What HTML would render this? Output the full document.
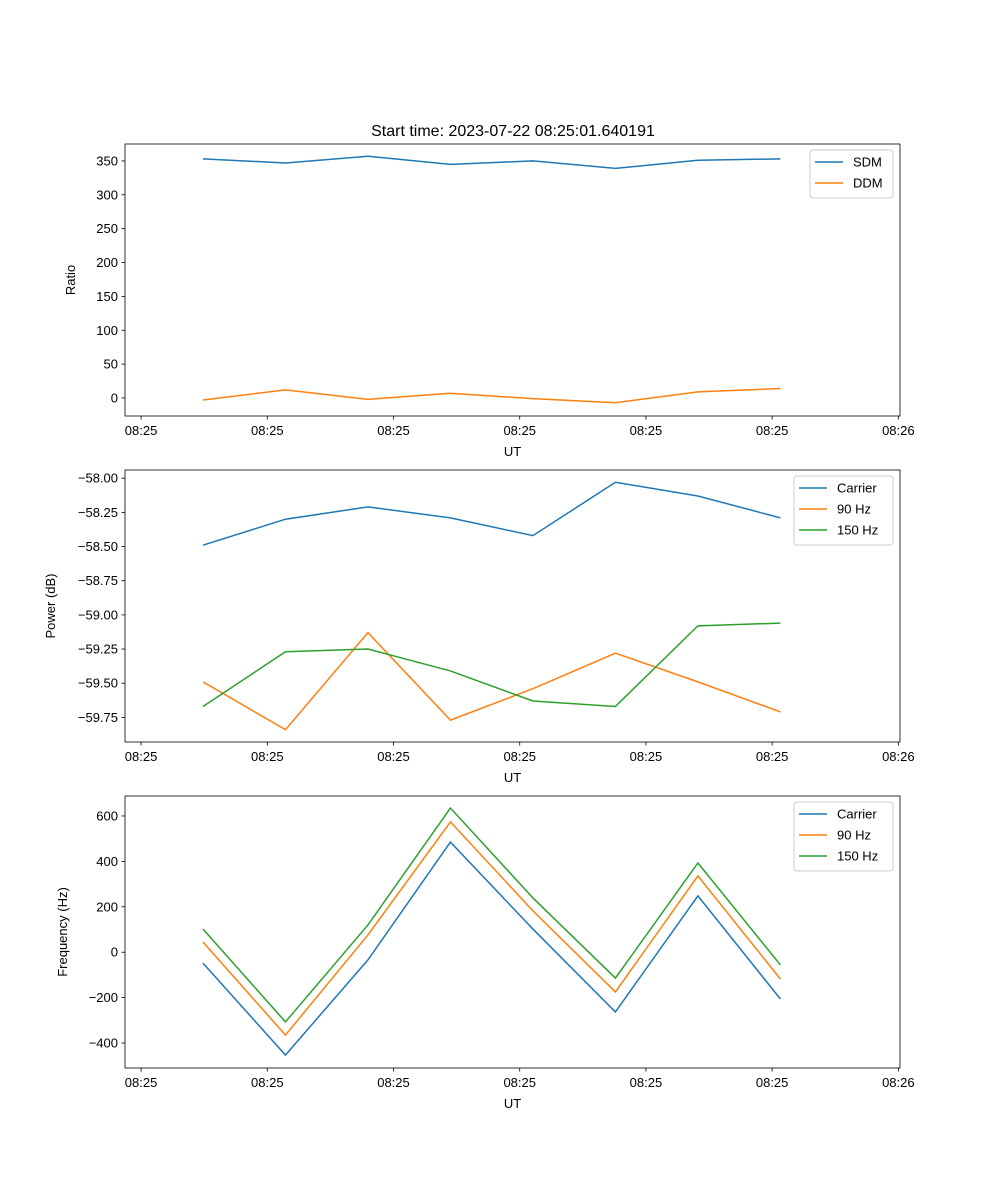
<!DOCTYPE html>
<html><head><meta charset="utf-8"><style>
body{margin:0;background:#fff;}
svg{display:block;font-family:"Liberation Sans","DejaVu Sans",sans-serif;}
</style></head><body>
<svg id="fig" width="1000" height="1200"></svg>
<script>
const tickLabels=["08:25","08:25","08:25","08:25","08:25","08:25","08:26"];
const tickIdx=[-0.75,0.78,2.31,3.84,5.37,6.90,8.43];
const sdm=[353,347,357,345,350,339,351,353];
const ddm=[-3,12,-2,7,-1,-7,9,14];
const pCarrier=[-58.49,-58.30,-58.21,-58.29,-58.42,-58.03,-58.13,-58.29];
const p90=[-59.49,-59.84,-59.13,-59.77,-59.54,-59.28,-59.49,-59.71];
const p150=[-59.67,-59.27,-59.25,-59.41,-59.63,-59.67,-59.08,-59.06];
const fCarrier=[-48,-453,-34,485,102,-263,248,-206];
const f90=[45,-365,76,574,182,-175,336,-118];
const f150=[102,-307,120,635,239,-114,393,-56];
const ticks1=[0,50,100,150,200,250,300,350];
const ticks2=[-59.75,-59.5,-59.25,-59.0,-58.75,-58.5,-58.25,-58.0];
const ticks3=[-400,-200,0,200,400,600];
const C=["#1f77b4","#ff7f0e","#2ca02c"];
const NS="http://www.w3.org/2000/svg";
const svg=document.getElementById('fig');
function el(t,a,p){const e=document.createElementNS(NS,t);for(const k in a)e.setAttribute(k,a[k]);(p||svg).appendChild(e);return e;}
const L=125,R=900,xmin=-0.945,xmax=8.45;
const xs=i=>L+(i-xmin)/(xmax-xmin)*(R-L);
function panel(name,top,ymin,ymax,yt,fmt,ylabel,series,names,legW,legX){
  const bot=top+272;
  const g=el('g',{});
  
  
  const ys=v=>bot-(v-ymin)/(ymax-ymin)*(bot-top);
  series.forEach((s,k)=>{
    const pl=el('polyline',{points:s.map((v,i)=>xs(i)+','+ys(v)).join(' '),fill:'none',stroke:C[k],'stroke-width':1.5},g);
    
    
  });
  const fr=el('rect',{x:L,y:top,width:R-L,height:bot-top,fill:'none',stroke:'#000','stroke-width':0.8},g);
  
  
  yt.forEach(v=>{const y=ys(v);el('line',{x1:L-3.5,x2:L,y1:y,y2:y,stroke:'#000','stroke-width':0.8},g);
    const t=el('text',{x:L-7,y:y+4.5,'text-anchor':'end','font-size':13},g);t.textContent=fmt(v).replace('-','\u2212');
    });
  tickIdx.forEach((ix,j)=>{const x=xs(ix);el('line',{x1:x,x2:x,y1:bot,y2:bot+3.5,stroke:'#000','stroke-width':0.8},g);
    const t=el('text',{x:x,y:bot+19,'text-anchor':'middle','font-size':13},g);t.textContent=tickLabels[j];
    });
  const xl=el('text',{x:(L+R)/2,y:bot+40,'text-anchor':'middle','font-size':13},g);xl.textContent='UT';
  
  const yl=el('text',{transform:`translate(${L-({Ratio:50,'Power (dB)':70,'Frequency (Hz)':58})[ylabel]},${(top+bot)/2}) rotate(-90)`,'text-anchor':'middle','font-size':13},g);yl.textContent=ylabel;
  
  const lg=el('g',{},g);
  
  el('rect',{x:legX,y:top+6,width:legW,height:names.length*21+6,rx:3,fill:'#fff',stroke:'#ccc','stroke-width':1},lg);
  names.forEach((n,k)=>{const y=top+18+k*21;
    el('line',{x1:legX+5,x2:legX+33,y1:y,y2:y,stroke:C[k],'stroke-width':1.5},lg);
    const t=el('text',{x:legX+43,y:y+4.5,'font-size':13},lg);t.textContent=n;
    });
}
const tt=el('text',{x:513,y:136,'text-anchor':'middle','font-size':16});tt.textContent='Start time: 2023-07-22 08:25:01.640191';

panel('ratio-panel',144,-26.6,375,ticks1,v=>String(v),'Ratio',[sdm,ddm],['SDM','DDM'],83,810);
panel('power-panel',470,-59.93,-57.94,ticks2,v=>v.toFixed(2),'Power (dB)',[pCarrier,p90,p150],['Carrier','90 Hz','150 Hz'],99,794);
panel('frequency-panel',796,-510,688,ticks3,v=>String(v),'Frequency (Hz)',[fCarrier,f90,f150],['Carrier','90 Hz','150 Hz'],99,794);
</script>
</body></html>
